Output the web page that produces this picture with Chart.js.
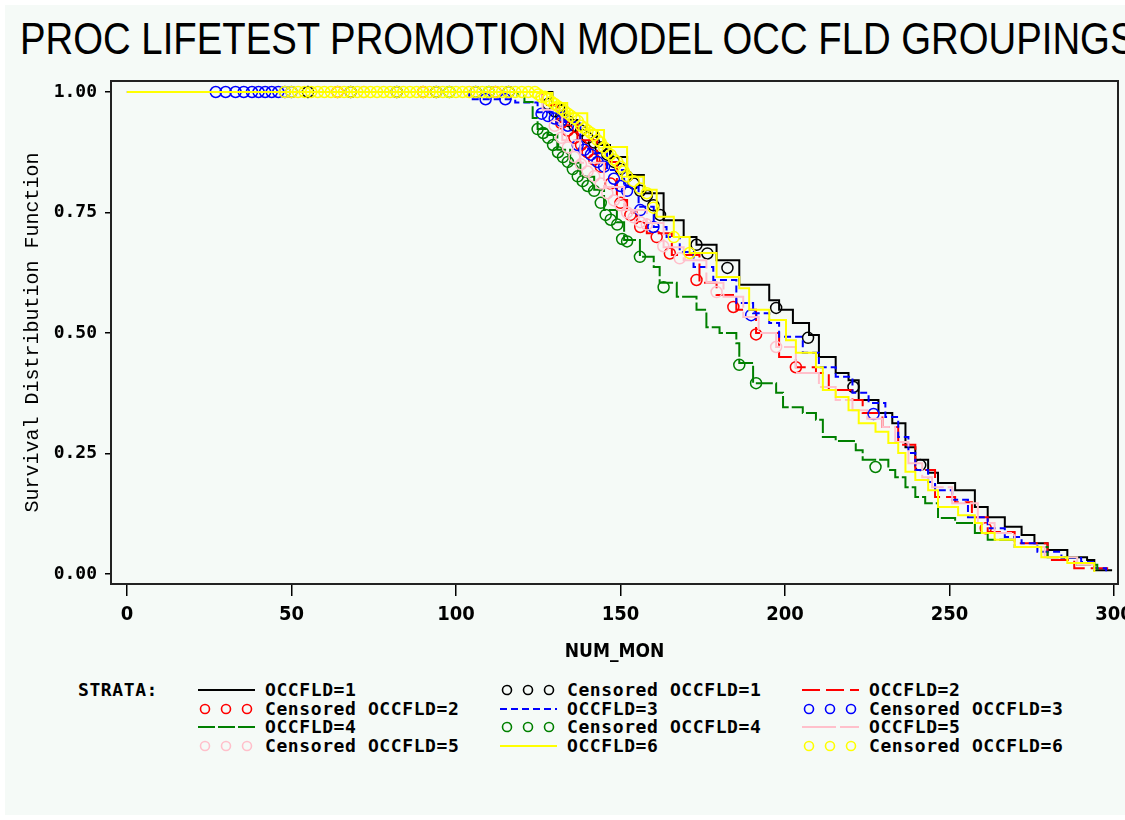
<!DOCTYPE html>
<html lang="en">
<head>
<meta charset="utf-8" />
<title>PROC LIFETEST promotion model</title>
<script src="https://cdn.jsdelivr.net/npm/chart.js@4.4.1/dist/chart.umd.min.js"></script>
<style>
  * { box-sizing: border-box; }
  html, body { margin: 0; padding: 0; background: #fff; }
  body { width: 1125px; height: 820px; position: relative; overflow: hidden; }
  .sheet { position: absolute; left: 5px; top: 5px; right: 0; bottom: 5px; background: #f5faf7; }
  #title {
    position: absolute; left: 20px; top: 16px;
    font: 45px/45px "Liberation Sans", Arial, sans-serif;
    white-space: nowrap; transform-origin: 0 0; color: #000;
  }
  .chart-wrap { position: absolute; left: 0; top: 0; width: 1125px; height: 663px; }
  .leg {
    position: absolute; height: 18px; display: flex; align-items: center;
    font: bold 18px/18px "DejaVu Sans Mono", monospace; letter-spacing: 0.6px;
    color: #000; white-space: nowrap;
  }
  .leg svg { flex: none; margin-right: 10px; }
</style>
</head>
<body>
  <div class="sheet"></div>
  <div id="title">PROC LIFETEST PROMOTION MODEL OCC FLD GROUPINGS</div>
  <div class="chart-wrap"><canvas id="chart"></canvas></div>
  <div id="legend"></div>
<script>
// axis ticks
const X_TICKS = [0, 50, 100, 150, 200, 250, 300];
const Y_TICKS = [0, 0.25, 0.5, 0.75, 1];

// OCCFLD=1 (black)
const G1_T = [0, 125, 129.3, 132.9, 136.9, 142.9, 146.8, 152.0, 157.1, 163.1, 169.2, 173.1, 179.2, 186.1, 195.2, 198.2, 202.4, 207.3, 210.3, 215.4, 219.3, 222.4, 228.4, 232.6, 236.6, 239.6, 243.5, 246.5, 251.7, 257.7, 261.6, 266.8, 271.9, 275.8, 279.8, 285.8, 291.8, 294.0, 299.1];
const G1_S = [1, 1, 0.973, 0.942, 0.921, 0.890, 0.865, 0.828, 0.790, 0.734, 0.699, 0.683, 0.651, 0.600, 0.568, 0.548, 0.521, 0.496, 0.450, 0.417, 0.402, 0.361, 0.334, 0.313, 0.263, 0.237, 0.210, 0.189, 0.174, 0.139, 0.118, 0.098, 0.081, 0.064, 0.050, 0.035, 0.029, 0.008, 0.006];
const G1_CT = [55, 68, 82, 94, 106, 116, 128, 130, 132, 134, 136, 138, 140, 142, 144, 146, 148, 150, 152, 154, 156, 158, 160, 162, 173.1, 176.4, 182.5, 197.3, 207.0, 220.8, 241.1];
const G1_CS = [1, 1, 1, 1, 1, 1, 0.975, 0.96, 0.95, 0.94, 0.93, 0.92, 0.905, 0.895, 0.885, 0.87, 0.855, 0.84, 0.825, 0.81, 0.795, 0.785, 0.765, 0.745, 0.683, 0.665, 0.635, 0.552, 0.490, 0.388, 0.226];

// OCCFLD=2 (red)
const G2_T = [0, 121.8, 126.3, 130.8, 136.9, 142.9, 148.9, 152.0, 155.0, 158.0, 165.6, 174.0, 179.2, 185.2, 191.2, 198.2, 203.3, 209.4, 213.3, 220.5, 223.6, 229.6, 234.4, 239.6, 245.6, 251.7, 256.8, 261.6, 269.8, 279.8, 287.9, 297.9];
const G2_S = [1, 1, 0.973, 0.938, 0.900, 0.855, 0.776, 0.750, 0.728, 0.707, 0.662, 0.604, 0.579, 0.548, 0.500, 0.450, 0.429, 0.417, 0.382, 0.361, 0.334, 0.305, 0.268, 0.216, 0.160, 0.149, 0.118, 0.087, 0.064, 0.029, 0.012, 0.002];
const G2_CT = [64, 90, 112, 132, 134, 136, 138, 140, 142, 144, 147, 150, 153, 156, 161, 165, 173.1, 184.3, 191.2, 203.3, 261.0];
const G2_CS = [1, 1, 1, 0.935, 0.92, 0.905, 0.89, 0.875, 0.86, 0.845, 0.81, 0.77, 0.745, 0.72, 0.699, 0.665, 0.610, 0.554, 0.497, 0.429, 0.095];

// OCCFLD=3 (blue)
const G3_T = [0, 104, 118, 124.8, 132.9, 137.8, 140.8, 145.9, 151.1, 155.5, 160.1, 164.0, 168.0, 172.2, 178.2, 185.2, 190.3, 195.2, 198.2, 205.4, 210.3, 215.4, 220.5, 225.4, 230.5, 234.4, 237.5, 239.6, 243.5, 245.6, 250.8, 255.6, 261.6, 266.8, 271.9, 276.7, 284.0, 290.0, 294.0, 297.6];
const G3_S = [1, 0.985, 0.978, 0.958, 0.938, 0.882, 0.873, 0.838, 0.803, 0.762, 0.720, 0.699, 0.668, 0.637, 0.610, 0.562, 0.541, 0.521, 0.492, 0.459, 0.429, 0.409, 0.376, 0.355, 0.326, 0.284, 0.251, 0.216, 0.191, 0.174, 0.154, 0.118, 0.095, 0.077, 0.064, 0.046, 0.033, 0.025, 0.012, 0.006];
const G3_CT = [27, 30, 33, 35.5, 38, 40, 42, 44, 46, 48, 50, 109, 115, 126, 128, 130, 132, 134, 137, 139, 141, 143, 145, 148, 150, 152, 156, 160, 189.7, 226.9];
const G3_CS = [1, 1, 1, 1, 1, 1, 1, 1, 1, 1, 1, 0.985, 0.985, 0.955, 0.95, 0.945, 0.94, 0.93, 0.89, 0.88, 0.87, 0.855, 0.845, 0.82, 0.805, 0.795, 0.755, 0.72, 0.537, 0.332];

// OCCFLD=4 (green)
const G4_T = [0, 112.7, 118.7, 120.8, 123.3, 124.8, 127.8, 130.8, 134.7, 137.8, 142.0, 145.0, 148.9, 151.1, 155.9, 160.1, 161.9, 167.1, 173.1, 176.1, 180.1, 185.2, 186.1, 190.3, 197.3, 199.4, 205.4, 209.4, 211.5, 215.4, 221.5, 223.6, 231.4, 233.5, 236.6, 239.6, 242.6, 246.5, 251.7, 257.7, 261.6, 269.8, 279.8, 288.8, 294.9];
const G4_S = [1, 1, 0.992, 0.979, 0.946, 0.923, 0.911, 0.880, 0.853, 0.824, 0.797, 0.755, 0.730, 0.693, 0.658, 0.637, 0.604, 0.575, 0.548, 0.512, 0.500, 0.479, 0.438, 0.396, 0.376, 0.346, 0.334, 0.320, 0.284, 0.276, 0.257, 0.237, 0.216, 0.201, 0.180, 0.160, 0.147, 0.116, 0.106, 0.085, 0.071, 0.056, 0.035, 0.019, 0.008];
const G4_CT = [98, 110, 124.8, 126.5, 128, 129.5, 131, 132.5, 134, 135.5, 137, 138.5, 140, 142, 144, 145.5, 147, 149, 150.5, 152, 155.9, 163.1, 186.1, 191.2, 227.5];
const G4_CS = [1, 1, 0.923, 0.915, 0.905, 0.89, 0.875, 0.865, 0.855, 0.84, 0.825, 0.815, 0.805, 0.795, 0.77, 0.745, 0.735, 0.725, 0.695, 0.69, 0.658, 0.595, 0.434, 0.396, 0.222];

// OCCFLD=5 (pink)
const G5_T = [0, 120.2, 126.3, 132.3, 137.8, 145.0, 151.1, 158.0, 163.1, 169.2, 176.1, 181.3, 187.3, 192.0, 197.3, 203.3, 210.3, 215.4, 220.5, 225.0, 229.6, 233.5, 237.5, 241.7, 244.7, 250.8, 258.6, 263.7, 269.8, 278.9, 288.8, 294.0];
const G5_S = [1, 1, 0.963, 0.900, 0.853, 0.803, 0.755, 0.728, 0.678, 0.651, 0.604, 0.575, 0.533, 0.500, 0.471, 0.417, 0.388, 0.361, 0.340, 0.322, 0.305, 0.274, 0.230, 0.201, 0.180, 0.147, 0.106, 0.085, 0.056, 0.035, 0.019, 0.008];
const G5_CT = [72, 104, 130, 132, 134, 136, 138, 140, 142, 144, 146, 148, 150, 152, 154, 156, 158, 163, 168, 179.2, 197.3];
const G5_CS = [1, 1, 0.93, 0.905, 0.885, 0.865, 0.85, 0.835, 0.825, 0.81, 0.79, 0.775, 0.765, 0.75, 0.74, 0.73, 0.725, 0.68, 0.655, 0.585, 0.471];

// OCCFLD=6 (yellow)
const G6_T = [0, 120.8, 124.8, 129.3, 133.8, 139.9, 145.0, 152.0, 157.1, 161.0, 166.2, 171.0, 179.2, 186.1, 189.1, 195.2, 200.3, 203.3, 209.4, 211.5, 215.4, 219.3, 222.4, 227.5, 231.4, 234.4, 236.6, 239.6, 243.5, 246.5, 252.6, 257.7, 259.8, 263.7, 269.8, 277.9, 285.8, 294.0];
const G6_S = [1, 1, 0.998, 0.977, 0.956, 0.921, 0.886, 0.824, 0.797, 0.741, 0.699, 0.666, 0.616, 0.593, 0.548, 0.527, 0.485, 0.459, 0.429, 0.382, 0.367, 0.340, 0.313, 0.295, 0.272, 0.251, 0.212, 0.195, 0.174, 0.139, 0.122, 0.106, 0.085, 0.071, 0.056, 0.035, 0.023, 0.004];
const G6_CT = [48, 50, 52, 54, 56, 58, 60, 62, 64, 66, 68, 70, 72, 74, 76, 78, 80, 82, 84, 86, 88, 90, 92, 94, 96, 98, 100, 102, 104, 106, 108, 110, 112, 114, 116, 118, 120, 122, 124, 125, 126, 127, 128, 129, 130, 131, 132, 133, 134, 135, 136, 137, 138, 139, 140, 141, 142, 143, 144, 145, 146, 147, 148, 149, 150, 151, 152, 154, 156, 158, 160, 166.2, 171.0];
const G6_CS = [1, 1, 1, 1, 1, 1, 1, 1, 1, 1, 1, 1, 1, 1, 1, 1, 1, 1, 1, 1, 1, 1, 1, 1, 1, 1, 1, 1, 1, 1, 1, 1, 1, 1, 1, 1, 1, 1, 1, 0.995, 0.99, 0.99, 0.985, 0.98, 0.975, 0.97, 0.965, 0.96, 0.955, 0.95, 0.945, 0.94, 0.93, 0.925, 0.92, 0.915, 0.91, 0.9, 0.895, 0.885, 0.875, 0.87, 0.86, 0.855, 0.845, 0.835, 0.825, 0.815, 0.80, 0.79, 0.76, 0.699, 0.666];

const GROUPS = [
  { name: "OCCFLD=1", color: "#000000", dash: [], t: G1_T, s: G1_S, ct: G1_CT, cs: G1_CS },
  { name: "OCCFLD=2", color: "#ff0000", dash: [18, 6], t: G2_T, s: G2_S, ct: G2_CT, cs: G2_CS },
  { name: "OCCFLD=3", color: "#0000ff", dash: [7, 4], t: G3_T, s: G3_S, ct: G3_CT, cs: G3_CS },
  { name: "OCCFLD=4", color: "#008000", dash: [17, 3], t: G4_T, s: G4_S, ct: G4_CT, cs: G4_CS },
  { name: "OCCFLD=5", color: "#ffc0cb", dash: [34, 4], t: G5_T, s: G5_S, ct: G5_CT, cs: G5_CS },
  { name: "OCCFLD=6", color: "#ffff00", dash: [], t: G6_T, s: G6_S, ct: G6_CT, cs: G6_CS },
];

// title: squeeze the lettering so it runs off the right edge like the original
(function fitTitle() {
  const el = document.getElementById("title");
  const m = document.createElement("canvas").getContext("2d");
  m.font = '45px "Liberation Sans", Arial, sans-serif';
  const text = el.textContent;
  const w = m.measureText(text.slice(0, -1)).width;
  el.style.transform = "scaleX(" + (1092 / w) + ")";
})();

// SAS-style legend, 3 columns x 4 rows
const LEG_COLS = [198, 500, 802];
const LEG_ROWS = [690, 708.5, 727, 746];
(function buildLegend() {
  const box = document.getElementById("legend");
  const strata = document.createElement("div");
  strata.className = "leg";
  strata.style.left = "78px";
  strata.style.top = (LEG_ROWS[0] - 9) + "px";
  strata.textContent = "STRATA:";
  box.appendChild(strata);

  const items = [];
  GROUPS.forEach((g) => {
    items.push({ label: g.name, g, kind: "line" });
    items.push({ label: "Censored " + g.name, g, kind: "mark" });
  });
  items.forEach((it, i) => {
    const div = document.createElement("div");
    div.className = "leg";
    div.style.left = LEG_COLS[i % 3] + "px";
    div.style.top = (LEG_ROWS[Math.floor(i / 3)] - 9) + "px";
    let svg;
    if (it.kind === "line") {
      const dash = it.g.dash.length ? ` stroke-dasharray="${it.g.dash.join(" ")}"` : "";
      svg = `<svg width="57" height="14"><line x1="0" y1="7" x2="57" y2="7" stroke="${it.g.color}" stroke-width="2"${dash}/></svg>`;
    } else {
      svg = `<svg width="57" height="14">` +
        [7, 28, 49].map((cx) => `<circle cx="${cx}" cy="7" r="4.5" fill="none" stroke="${it.g.color}" stroke-width="1.6"/>`).join("") +
        `</svg>`;
    }
    div.innerHTML = svg + `<span>${it.label}</span>`;
    box.appendChild(div);
  });
})();

const datasets = [];
GROUPS.forEach((g) => {
  datasets.push({
    label: g.name,
    data: g.t.map((t, i) => ({ x: t, y: g.s[i] })),
    showLine: true,
    stepped: true,
    borderColor: g.color,
    borderWidth: 2,
    borderDash: g.dash,
    pointRadius: 0,
    fill: false,
  });
  datasets.push({
    label: "Censored " + g.name,
    data: g.ct.map((t, i) => ({ x: t, y: g.cs[i] })),
    showLine: false,
    pointStyle: "circle",
    pointRadius: 5.5,
    pointBorderWidth: 1.5,
    pointBorderColor: g.color,
    pointBackgroundColor: "rgba(0,0,0,0)",
  });
});
// later strata are drawn on top, like the SAS output
datasets.reverse();

const framePlugin = {
  id: "frame",
  afterDatasetsDraw(chart) {
    const { ctx, chartArea: a } = chart;
    ctx.save();
    ctx.strokeStyle = "#222";
    ctx.lineWidth = 2;
    ctx.strokeRect(a.left, a.top, a.right - a.left, a.bottom - a.top);
    ctx.restore();
  },
};

Chart.defaults.color = "#000";

new Chart(document.getElementById("chart"), {
  type: "scatter",
  data: { datasets },
  plugins: [framePlugin],
  options: {
    responsive: true,
    maintainAspectRatio: false,
    animation: false,
    layout: { padding: { top: 81, right: 4, left: 0, bottom: 0 } },
    plugins: { legend: { display: false }, tooltip: { enabled: false } },
    scales: {
      x: {
        type: "linear",
        min: -4.85,
        max: 301.2,
        afterBuildTicks(s) { s.ticks = X_TICKS.map((v) => ({ value: v })); },
        afterFit(s) { s.height = 79; s.paddingLeft = 0; s.paddingRight = 0; },
        grid: { drawOnChartArea: false, drawTicks: true, tickLength: 12, color: "#000", lineWidth: 1.5 },
        border: { display: false },
        ticks: {
          padding: 7,
          maxRotation: 0,
          autoSkip: false,
          font: { family: '"Liberation Sans Narrow", "DejaVu Sans Condensed", "Liberation Sans", sans-serif', size: 20, weight: "bold" },
          callback: (v) => String(v),
        },
        title: {
          display: true,
          text: "NUM_MON",
          font: { family: '"Liberation Sans Narrow", "DejaVu Sans Condensed", "Liberation Sans", sans-serif', size: 19, weight: "bold" },
          padding: { top: 0, bottom: 0 },
        },
      },
      y: {
        type: "linear",
        min: -0.0207,
        max: 1.0228,
        afterBuildTicks(s) { s.ticks = Y_TICKS.map((v) => ({ value: v })); },
        afterFit(s) { s.width = 111; s.paddingTop = 0; s.paddingBottom = 0; },
        grid: { drawOnChartArea: false, drawTicks: true, tickLength: 6, color: "#000", lineWidth: 1.5 },
        border: { display: false },
        ticks: {
          padding: 8,
          font: { family: '"DejaVu Sans Mono", monospace', size: 18, weight: "bold" },
          callback: (v) => Number(v).toFixed(2),
        },
        title: {
          display: true,
          text: "Survival Distribution Function",
          font: { family: '"Liberation Mono", "DejaVu Sans Mono", monospace', size: 20, weight: "normal" },
          padding: { top: 21, bottom: 0 },
        },
      },
    },
  },
});
</script>
</body>
</html>
